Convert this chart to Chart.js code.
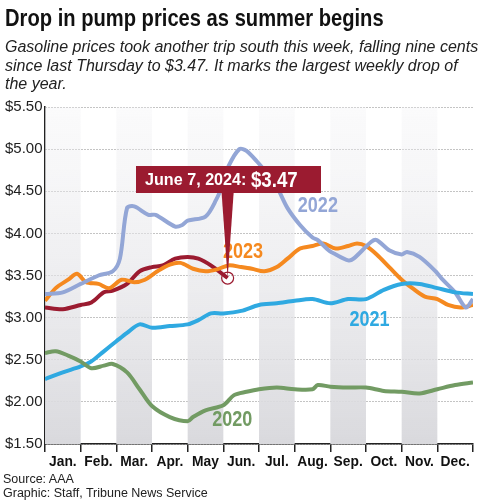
<!DOCTYPE html>
<html>
<head>
<meta charset="utf-8">
<script src="https://cdn.jsdelivr.net/npm/chart.js@4"></script>
<style>
  body { margin: 0; background: #fff; font-family: "Liberation Sans", Arial, sans-serif; }
  #wrap { position: relative; width: 486px; height: 500px; }
  canvas { position: absolute; left: 0; top: 0; }
  .title { position: absolute; left: 5px; top: 4px; font: bold 24px "Liberation Sans", sans-serif; color: #111; transform: scaleX(0.84); transform-origin: left top; white-space: nowrap; }
  .sub { position: absolute; left: 5px; top: 38px; width: 476px; font: italic 16px "Liberation Sans", sans-serif; line-height: 18.5px; color: #222; }
  .foot { position: absolute; left: 3px; top: 472px; font: 12.5px "Liberation Sans", sans-serif; line-height: 14px; color: #222; }
</style>
</head>
<body>
<div id="wrap">
  <canvas id="chart" width="486" height="500"></canvas>
  <div class="title">Drop in pump prices as summer begins</div>
  <div class="sub">Gasoline prices took another trip south this week, falling nine cents since last Thursday to $3.47. It marks the largest weekly drop of the year.</div>
  <div class="foot">Source: AAA<br>Graphic: Staff, Tribune News Service</div>
</div>
<script>
// x in months since Jan 1
const months = ["Jan.", "Feb.", "Mar.", "Apr.", "May", "Jun.", "Jul.", "Aug.", "Sep.", "Oct.", "Nov.", "Dec."];
const yTicks = [1.5, 2, 2.5, 3, 3.5, 4, 4.5, 5, 5.5];

const x2020 = [0, 0.3, 0.65, 1, 1.3, 1.65, 1.9, 2.3, 2.65, 3, 3.5, 4, 4.15, 4.5, 5, 5.3, 5.65, 6, 6.5, 7, 7.5, 7.65, 8, 8.5, 9, 9.5, 10, 10.5, 11, 11.5, 12];
const y2020 = [2.58, 2.6, 2.55, 2.48, 2.4, 2.43, 2.45, 2.35, 2.15, 1.95, 1.82, 1.77, 1.82, 1.9, 1.96, 2.08, 2.12, 2.15, 2.17, 2.15, 2.15, 2.2, 2.18, 2.17, 2.17, 2.13, 2.12, 2.1, 2.15, 2.2, 2.23];

const x2021 = [0, 0.5, 1, 1.3, 1.65, 2, 2.3, 2.65, 3, 3.5, 4, 4.3, 4.65, 5, 5.5, 6, 6.5, 7, 7.5, 8, 8.5, 9, 9.5, 10, 10.5, 11, 11.5, 12];
const y2021 = [2.27, 2.35, 2.42, 2.48, 2.6, 2.72, 2.82, 2.92, 2.88, 2.9, 2.92, 2.97, 3.05, 3.05, 3.08, 3.15, 3.17, 3.2, 3.22, 3.17, 3.22, 3.22, 3.33, 3.4, 3.4, 3.35, 3.3, 3.28];

const x2022 = [0, 0.5, 1, 1.5, 1.9, 2.1, 2.3, 2.5, 2.9, 3.1, 3.65, 3.85, 4, 4.5, 4.8, 5, 5.15, 5.45, 5.65, 5.95, 6.15, 6.5, 6.8, 7.15, 7.5, 7.65, 7.95, 8.15, 8.5, 8.65, 9.15, 9.3, 9.65, 10, 10.15, 10.5, 10.95, 11.15, 11.5, 11.8, 12];
const y2022 = [3.28, 3.3, 3.4, 3.5, 3.55, 3.7, 4.3, 4.32, 4.22, 4.22, 4.08, 4.1, 4.15, 4.2, 4.4, 4.6, 4.8, 5.0, 4.98, 4.85, 4.75, 4.55, 4.3, 4.1, 3.95, 3.92, 3.8, 3.75, 3.68, 3.7, 3.9, 3.92, 3.8, 3.75, 3.78, 3.72, 3.55, 3.45, 3.3, 3.12, 3.22];

const x2023 = [0, 0.3, 0.65, 0.9, 1.15, 1.5, 1.8, 2.15, 2.5, 2.8, 3.15, 3.5, 3.8, 4.15, 4.5, 4.8, 5.15, 5.5, 5.8, 6.15, 6.5, 6.8, 7.15, 7.5, 7.8, 8.15, 8.5, 8.75, 9, 9.3, 9.65, 10, 10.3, 10.65, 11, 11.3, 11.65, 12];
const y2023 = [3.2, 3.35, 3.45, 3.52, 3.42, 3.4, 3.35, 3.45, 3.42, 3.45, 3.55, 3.63, 3.65, 3.58, 3.55, 3.57, 3.62, 3.6, 3.58, 3.55, 3.6, 3.7, 3.82, 3.85, 3.88, 3.82, 3.85, 3.88, 3.85, 3.75, 3.6, 3.45, 3.35, 3.25, 3.22, 3.15, 3.12, 3.15];

const x2024 = [0, 0.5, 1, 1.3, 1.65, 1.9, 2.3, 2.65, 3, 3.3, 3.65, 4, 4.3, 4.65, 5.12];
const y2024 = [3.12, 3.1, 3.15, 3.18, 3.3, 3.32, 3.4, 3.55, 3.6, 3.62, 3.7, 3.72, 3.7, 3.62, 3.47];

const seriesNames = ["2020", "2021", "2022", "2023", "2024"];
const seriesColors = ["#729b63", "#2fa9e1", "#93a6d6", "#f5891f", "#9b1b30"];
const seriesX = [x2020, x2021, x2022, x2023, x2024];
const seriesY = [y2020, y2021, y2022, y2023, y2024];
// where each year's name goes [month, price]
const labelAt = [[5.25, 1.78], [9.1, 2.97], [7.65, 4.32], [5.55, 3.78], null];

const bands = {
  id: "bands",
  beforeDatasetsDraw(chart) {
    const { ctx, chartArea: a, scales: { x } } = chart;
    const g = ctx.createLinearGradient(0, a.top, 0, a.bottom);
    g.addColorStop(0, "rgba(240,240,243,0.3)");
    g.addColorStop(1, "#d9d9dd");
    ctx.save();
    ctx.fillStyle = g;
    for (let m = 0; m < 12; m += 2) {
      const l = x.getPixelForValue(m), r = x.getPixelForValue(m + 1);
      ctx.fillRect(l, a.top, r - l, a.bottom - a.top);
    }
    ctx.restore();
  }
};

function narrowText(ctx, s, x, y, sx) {
  ctx.save();
  ctx.translate(x, y);
  ctx.scale(sx, 1);
  ctx.fillText(s, 0, 0);
  ctx.restore();
}

const extras = {
  id: "extras",
  afterDatasetsDraw(chart) {
    const { ctx, chartArea: a, scales: { x, y } } = chart;
    ctx.save();
    // month names
    ctx.fillStyle = "#111";
    ctx.font = "bold 15px 'Liberation Sans', sans-serif";
    ctx.textAlign = "center";
    ctx.textBaseline = "middle";
    months.forEach((m, i) => narrowText(ctx, m, x.getPixelForValue(i + 0.5), a.bottom + 18, 0.92));
    // series labels
    ctx.font = "bold 22px 'Liberation Sans', sans-serif";
    labelAt.forEach((p, i) => {
      if (!p) return;
      ctx.fillStyle = seriesColors[i];
      narrowText(ctx, seriesNames[i], x.getPixelForValue(p[0]), y.getPixelForValue(p[1]), 0.82);
    });
    // callout
    const px = x.getPixelForValue(x2024[x2024.length - 1]);
    const py = y.getPixelForValue(y2024[y2024.length - 1]);
    ctx.strokeStyle = "#9b1b30";
    ctx.lineWidth = 1.2;
    ctx.beginPath();
    ctx.arc(px, py, 6, 0, Math.PI * 2);
    ctx.stroke();
    const bx = 136, by = 166, bw = 185, bh = 27;
    ctx.fillStyle = "#9b1b30";
    ctx.fillRect(bx, by, bw, bh);
    ctx.beginPath();
    ctx.moveTo(px - 6, by + bh);
    ctx.lineTo(px + 6, by + bh);
    ctx.lineTo(px, py);
    ctx.closePath();
    ctx.fill();
    ctx.fillStyle = "#fff";
    ctx.textAlign = "left";
    ctx.font = "bold 17px 'Liberation Sans', sans-serif";
    const t1 = "June 7, 2024: ";
    narrowText(ctx, t1, bx + 9, by + bh / 2 + 1, 0.95);
    const w1 = ctx.measureText(t1).width * 0.95;
    ctx.font = "bold 22px 'Liberation Sans', sans-serif";
    narrowText(ctx, "$3.47", bx + 9 + w1, by + bh / 2 + 1, 0.85);
    ctx.restore();
  }
};

new Chart(document.getElementById("chart"), {
  type: "line",
  data: {
    datasets: seriesNames.map((n, i) => ({
      label: n,
      data: seriesX[i].map((v, j) => ({ x: v, y: seriesY[i][j] })),
      borderColor: seriesColors[i],
      borderWidth: 4,
      pointRadius: 0,
      tension: 0.3,
      fill: false
    }))
  },
  options: {
    responsive: false,
    animation: false,
    layout: { padding: { left: 5, right: 13, top: 107, bottom: 26 } },
    plugins: { legend: { display: false }, tooltip: { enabled: false } },
    scales: {
      x: {
        type: "linear", min: 0, max: 12,
        afterFit: s => { s.height = 30; },
        afterBuildTicks: s => { s.ticks = months.map((m, i) => ({ value: i })).concat([{ value: 12 }]); },
        ticks: { callback: () => "", autoSkip: false },
        grid: { drawOnChartArea: false, color: "#222", tickLength: 8, lineWidth: 1.5 },
        border: { color: "#222", width: 1.5 }
      },
      y: {
        min: 1.5, max: 5.5,
        afterFit: s => { s.width = 40; },
        afterBuildTicks: s => { s.ticks = yTicks.map(v => ({ value: v })); },
        ticks: {
          crossAlign: "far", padding: 0, color: "#222",
          font: { size: 15, family: "Liberation Sans" },
          callback: v => "$" + v.toFixed(2)
        },
        grid: { color: "#888", drawTicks: false, tickLength: 0 },
        border: { color: "#222", width: 1.5, dash: [1, 2] }
      }
    }
  },
  plugins: [bands, extras]
});
</script>
</body>
</html>
